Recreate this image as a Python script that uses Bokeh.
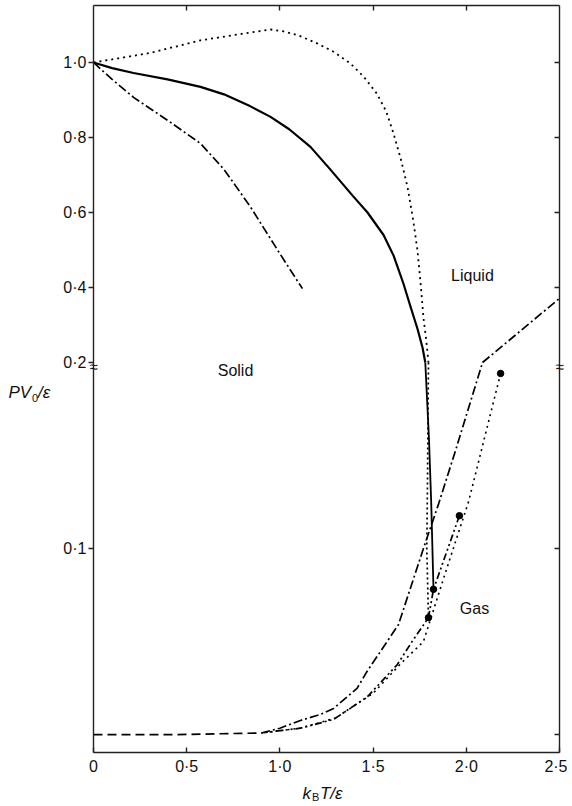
from bokeh.plotting import figure
from bokeh.models import Range1d, LinearAxis, LogAxis, FixedTicker, Label, LinearScale
from bokeh.embed import file_html
from bokeh.resources import INLINE

FONT = "Liberation Sans"

# ---------------- data ----------------
# upper (linear) part of the y axis, PV0/eps >= 0.2
upper_solid_x = [0.0, 0.1, 0.215, 0.397, 0.574, 0.7, 0.842, 0.95, 1.05, 1.164, 1.27, 1.39, 1.47,
                 1.556, 1.61, 1.663, 1.70, 1.738, 1.765, 1.78]
upper_solid_y = [1.0, 0.985, 0.972, 0.955, 0.935, 0.915, 0.883, 0.855, 0.822, 0.775, 0.715, 0.645, 0.60,
                 0.54, 0.485, 0.41, 0.35, 0.29, 0.24, 0.2]

upper_dotted_x = [0.0, 0.3, 0.574, 0.842, 0.95, 1.02, 1.1, 1.20, 1.29, 1.379, 1.45, 1.52, 1.57, 1.61,
                  1.65, 1.685, 1.715, 1.738, 1.755, 1.77, 1.785, 1.797]
upper_dotted_y = [1.0, 1.025, 1.059, 1.08, 1.088, 1.083, 1.072, 1.051, 1.028, 0.997, 0.962, 0.917, 0.87, 0.81,
                  0.74, 0.667, 0.58, 0.499, 0.41, 0.32, 0.26, 0.2]

upper_dashdot_x = [0.0, 0.1, 0.215, 0.4, 0.574, 0.7, 0.842, 1.0, 1.121]
upper_dashdot_y = [1.0, 0.955, 0.907, 0.845, 0.784, 0.715, 0.615, 0.49, 0.397]

upper_dashdot2_x = [2.087, 2.5]
upper_dashdot2_y = [0.2, 0.371]

# lower (logarithmic) part of the y axis, PV0/eps <= 0.2
base_dash_x = [0.0, 0.45, 0.9]
base_dash_y = [0.0500, 0.0500, 0.0503]

lower_dashdot_x = [0.9, 1.0, 1.11, 1.218, 1.288, 1.414, 1.468, 1.636, 1.77, 1.851, 1.942, 2.087]
lower_dashdot_y = [0.0503, 0.0512, 0.0527, 0.0539, 0.0551, 0.0594, 0.0633, 0.0753, 0.100, 0.118, 0.144, 0.200]

lower_solid_x = [1.78, 1.80, 1.812, 1.824]
lower_solid_y = [0.2, 0.15, 0.118, 0.0859]

lower_dotted_x = [1.797, 1.792, 1.788, 1.797]
lower_dotted_y = [0.2, 0.13, 0.10, 0.0773]

lower_dotted2_x = [2.184, 2.012, 1.89, 1.77, 1.65, 1.50, 1.30, 1.11, 0.9]
lower_dotted2_y = [0.192, 0.119, 0.0918, 0.0707, 0.0652, 0.0583, 0.0532, 0.0512, 0.0503]

lower_dd_x = [1.963, 1.824, 1.797, 1.709, 1.63, 1.47, 1.288, 1.11, 0.9]
lower_dd_y = [0.113, 0.0859, 0.0773, 0.0707, 0.0649, 0.0576, 0.0529, 0.0512, 0.0503]

dot_x = [1.797, 1.824, 1.963, 2.184]
dot_y = [0.0773, 0.0859, 0.113, 0.192]

x_ticks = [0.0, 0.5, 1.0, 1.5, 2.0, 2.5]
x_tick_labels = ["0", "0·5", "1·0", "1·5", "2·0", "2·5"]
upper_ticks = [0.2, 0.4, 0.6, 0.8, 1.0]
upper_tick_labels = ["0·2", "0·4", "0·6", "0·8", "1·0"]
lower_ticks = [0.1]
lower_tick_labels = ["0·1"]
right_lower_ticks = [0.05, 0.1]

# ---------------- axis limits ----------------
X_MIN, X_MAX = 0.0, 2.5            # plotted x interval (axis bounds)
UP_MIN, UP_MAX = -0.84, 1.152      # linear axis extent (its 0.2 sits at the break)
LOG_MIN = 0.04677                  # bottom of the logarithmic part

# the frame covers the whole canvas; axes are drawn at fixed locations
p = figure(frame_width=567, frame_height=802,
           x_range=Range1d(-0.4989, 2.5429), y_range=Range1d(0.03882, 0.7705),
           y_axis_type="log", x_axis_location=None, y_axis_location=None,
           output_backend="svg", toolbar_location=None,
           min_border_left=0, min_border_right=0, min_border_top=0, min_border_bottom=0)
p.extra_y_ranges = {"upper": Range1d(-0.9733, 1.1653)}
p.extra_y_scales = {"upper": LinearScale()}
p.outline_line_color = None
p.xgrid.visible = False
p.ygrid.visible = False
p.background_fill_color = "white"
p.border_fill_color = "white"


def style(ax, tin, tout, standoff=3):
    ax.axis_line_width = 1.4
    ax.axis_line_color = "#222222"
    ax.major_tick_line_width = 1.4
    ax.major_tick_line_color = "#222222"
    ax.major_tick_in = tin
    ax.major_tick_out = tout
    ax.minor_tick_line_color = None
    ax.major_label_text_font = FONT
    ax.major_label_text_font_size = "16px"
    ax.major_label_text_color = "#111111"
    ax.major_label_standoff = standoff


ax_l = LinearAxis(y_range_name="upper", ticker=FixedTicker(ticks=upper_ticks),
                  fixed_location=X_MIN, bounds=(UP_MIN, UP_MAX),
                  major_label_overrides=dict(zip(upper_ticks, upper_tick_labels)))
style(ax_l, 0, 5, 2)
p.add_layout(ax_l, "left")

ax_l2 = LogAxis(ticker=FixedTicker(ticks=lower_ticks), fixed_location=X_MIN,
                major_label_overrides=dict(zip(lower_ticks, lower_tick_labels)))
style(ax_l2, 0, 5, 2)
ax_l2.axis_line_color = None
p.add_layout(ax_l2, "left")

ax_r = LinearAxis(y_range_name="upper", ticker=FixedTicker(ticks=upper_ticks[1:]),
                  fixed_location=X_MAX, bounds=(UP_MIN, UP_MAX),
                  major_label_overrides={t: "" for t in upper_ticks[1:]})
style(ax_r, 5, 0, 0)
p.add_layout(ax_r, "right")

ax_r2 = LogAxis(ticker=FixedTicker(ticks=right_lower_ticks), fixed_location=X_MAX,
                major_label_overrides={t: "" for t in right_lower_ticks})
style(ax_r2, 5, 0, 0)
ax_r2.axis_line_color = None
p.add_layout(ax_r2, "right")

ax_t = LinearAxis(ticker=FixedTicker(ticks=x_ticks[1:-1]), y_range_name="upper",
                  fixed_location=UP_MAX, bounds=(X_MIN, X_MAX),
                  major_label_overrides={t: "" for t in x_ticks[1:-1]})
style(ax_t, 5, 0, 0)
p.add_layout(ax_t, "above")

ax_b = LinearAxis(ticker=FixedTicker(ticks=x_ticks), fixed_location=LOG_MIN,
                  bounds=(X_MIN, X_MAX),
                  major_label_overrides=dict(zip(x_ticks, x_tick_labels)))
style(ax_b, 5, 0, 6)
p.add_layout(ax_b, "below")

# ---------------- curves ----------------
p.line(upper_solid_x, upper_solid_y, y_range_name="upper", color="black", line_width=2.2)
p.line(upper_dotted_x, upper_dotted_y, y_range_name="upper", color="black", line_width=1.8, line_dash="2 4")
p.line(upper_dashdot_x, upper_dashdot_y, y_range_name="upper", color="black", line_width=1.7, line_dash="9 3 2 3")
p.line(upper_dashdot2_x, upper_dashdot2_y, y_range_name="upper", color="black", line_width=1.7, line_dash="9 3 2 3")

p.line(base_dash_x, base_dash_y, color="black", line_width=1.7, line_dash="9 5")
p.line(lower_dashdot_x, lower_dashdot_y, color="black", line_width=1.7, line_dash="9 3 2 3")
p.line(lower_solid_x, lower_solid_y, color="black", line_width=1.8)
p.line(lower_dotted_x, lower_dotted_y, color="black", line_width=1.7, line_dash="2 3")
p.line(lower_dotted2_x, lower_dotted2_y, color="black", line_width=1.6, line_dash="2 4")
p.line(lower_dd_x, lower_dd_y, color="black", line_width=1.7, line_dash="7 3 2 3 2 3")
p.scatter(dot_x, dot_y, size=6.5, color="black")

# ---------------- texts ----------------
def lab(text, x, y, size="16px", italic=False, align="center", baseline="middle", rng="default"):
    lb = Label(x=x, y=y, text=text, text_font=FONT, text_font_size=size,
               text_font_style="italic" if italic else "normal",
               text_align=align, text_baseline=baseline, text_color="#111111",
               y_range_name=rng)
    p.add_layout(lb)

lab("Solid", 0.762, 0.194)
lab("Liquid", 2.033, 0.432, rng="upper")
lab("Gas", 2.044, 0.080)

# y-axis title PV0/eps
lab("PV", -0.456, 0.1788, size="17px", italic=True, align="left", baseline="alphabetic")
lab("0", -0.330, 0.1750, size="11px", align="left", baseline="alphabetic")
lab("/ε", -0.298, 0.1788, size="17px", italic=True, align="left", baseline="alphabetic")

# x-axis title kB T/eps
lab("k", 1.121, 0.04014, size="17px", italic=True, align="left", baseline="alphabetic")
lab("B", 1.172, 0.03955, size="11px", align="left", baseline="alphabetic")
lab("T/ε", 1.215, 0.04014, size="17px", italic=True, align="left", baseline="alphabetic")

# axis-break marks
lab("≈", X_MIN, 0.197, size="15px")
lab("≈", X_MAX, 0.197, size="15px")

open("out.html", "w").write(file_html(p, INLINE))
